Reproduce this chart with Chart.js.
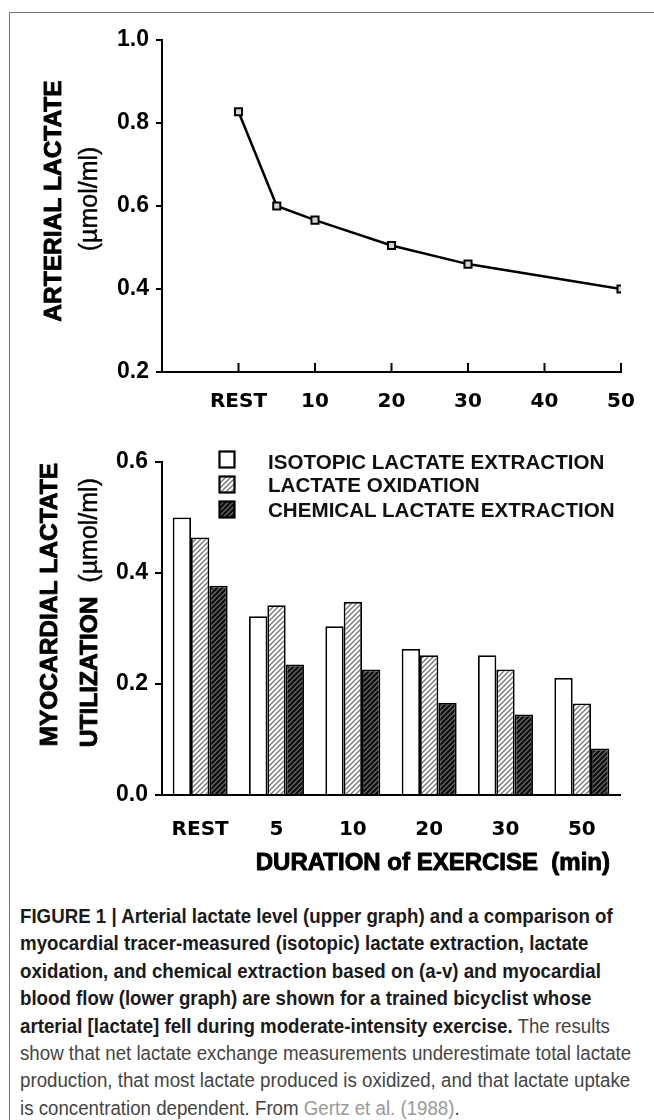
<!DOCTYPE html>
<html>
<head>
<meta charset="utf-8">
<script src="https://cdn.jsdelivr.net/npm/chart.js@4.4.1/dist/chart.umd.min.js"></script>
<style>
  body { margin: 0; background: #fff; width: 654px; height: 1120px; overflow: hidden; position: relative; }
  #frame { position: absolute; left: 9px; top: 12px; width: 700px; height: 1200px; border-left: 1.5px solid #777; border-top: 1.5px solid #777; }
  .box { position: absolute; }
  .legend { position: absolute; left: 268px; font: bold 20.6px "Liberation Sans", Arial, sans-serif; color: #111; white-space: nowrap; line-height: 24px; }
  .cap { position: absolute; left: 20px; top: 903px; font: 20px "Liberation Sans", Arial, sans-serif; line-height: 27.4px; color: #444; white-space: nowrap; transform: scaleX(0.935); transform-origin: 0 0; }
  .cap b { color: #1a1a1a; }
  .cap span { color: #999; }
</style>
</head>
<body>
<div id="frame"></div>
<canvas id="topChart" width="654" height="420" class="box" style="left:0;top:0"></canvas>
<canvas id="bottomChart" width="654" height="460" class="box" style="left:0;top:420px"></canvas>

<canvas id="lg0" width="18" height="19" class="box" style="left:218px;top:450px"></canvas>
<canvas id="lg1" width="18" height="19" class="box" style="left:218px;top:475px"></canvas>
<canvas id="lg2" width="18" height="19" class="box" style="left:218px;top:500px"></canvas>
<div class="legend" id="lt0" style="top:450px"></div>
<div class="legend" id="lt1" style="top:473px"></div>
<div class="legend" id="lt2" style="top:498px"></div>

<div class="cap">
<b>FIGURE 1 | Arterial lactate level (upper graph) and a comparison of</b><br>
<b>myocardial tracer-measured (isotopic) lactate extraction, lactate</b><br>
<b>oxidation, and chemical extraction based on (a-v) and myocardial</b><br>
<b>blood flow (lower graph) are shown for a trained bicyclist whose</b><br>
<b>arterial [lactate] fell during moderate-intensity exercise.</b> The results<br>
show that net lactate exchange measurements underestimate total lactate<br>
production, that most lactate produced is oxidized, and that lactate uptake<br>
is concentration dependent. From <span>Gertz et al. (1988)</span>.
</div>

<script>
// upper graph
var topMinutes = [0, 5, 10, 20, 30, 50];
var arterialLactate = [0.827, 0.600, 0.566, 0.505, 0.460, 0.400];
var topXTicks = [0, 10, 20, 30, 40, 50];
var topYTicks = [0.2, 0.4, 0.6, 0.8, 1.0];

// lower graph
var categories = ['REST', '5', '10', '20', '30', '50'];
var isotopic = [0.500, 0.322, 0.304, 0.263, 0.252, 0.211];
var oxidation = [0.464, 0.342, 0.348, 0.252, 0.226, 0.165];
var chemical = [0.377, 0.235, 0.226, 0.166, 0.145, 0.084];
var bottomYTicks = [0.0, 0.2, 0.4, 0.6];
var seriesNames = ['ISOTOPIC LACTATE EXTRACTION', 'LACTATE OXIDATION', 'CHEMICAL LACTATE EXTRACTION'];

var SANS = '"Liberation Sans", Arial, sans-serif';
var WIDE = '"DejaVu Sans", sans-serif';
var B24 = 'bold 24.5px ' + SANS;
var R25 = '25px ' + SANS;

function hatch(ctx, bg, fg, lw, s) {
	var c = document.createElement('canvas');
	c.width = s; c.height = s;
	var g = c.getContext('2d');
	g.fillStyle = bg;
	g.fillRect(0, 0, s, s);
	g.strokeStyle = fg;
	g.lineWidth = lw;
	g.beginPath();
	g.moveTo(-1, s + 1); g.lineTo(s + 1, -1);
	g.moveTo(-s / 2 - 1, s / 2 + 1); g.lineTo(s / 2 + 1, -s / 2 - 1);
	g.moveTo(s / 2 - 1, s * 1.5 + 1); g.lineTo(s * 1.5 + 1, s / 2 - 1);
	g.stroke();
	return ctx.createPattern(c, 'repeat');
}

// small ticks pointing up into the plot, on the top x axis
var innerTicks = {
	id: 'innerTicks',
	afterDraw: function(chart) {
		var s = chart.scales.x, ctx = chart.ctx;
		ctx.save();
		ctx.strokeStyle = '#000';
		ctx.lineWidth = 2;
		s.ticks.forEach(function(t) {
			var px = s.getPixelForValue(t.value);
			ctx.beginPath();
			ctx.moveTo(px, s.top);
			ctx.lineTo(px, s.top - 9);
			ctx.stroke();
		});
		ctx.restore();
	}
};

// axis titles with mixed weights (heavy words + plain units)
function axisTitles(lines) {
	return {
		id: 'axisTitles',
		afterDraw: function(chart) {
			var ctx = chart.ctx;
			lines.forEach(function(l) {
				ctx.save();
				ctx.fillStyle = '#000';
				ctx.strokeStyle = '#000';
				ctx.lineJoin = 'round';
				ctx.textBaseline = 'middle';
				ctx.textAlign = 'left';
				var widths = l.parts.map(function(p) { ctx.font = p[1]; return ctx.measureText(p[0]).width; });
				var w = widths.reduce(function(a, b) { return a + b; }, 0);
				if (l.rotate) {
					ctx.translate(l.x, l.align === 'top' ? l.y + w : l.y + w / 2);
					ctx.rotate(-Math.PI / 2);
				} else {
					ctx.translate(l.align === 'right' ? l.x - w : l.x - w / 2, l.y);
				}
				var off = 0;
				l.parts.forEach(function(p, i) {
					ctx.font = p[1];
					ctx.fillText(p[0], off, 0);
					ctx.lineWidth = p[1] === R25 ? 0.4 : 0.9;
					ctx.strokeText(p[0], off, 0);
					off += widths[i];
				});
				ctx.restore();
			});
		}
	};
}

Chart.defaults.font.family = SANS;
Chart.defaults.font.weight = 'bold';
Chart.defaults.color = '#000';

new Chart(document.getElementById('topChart'), {
	type: 'line',
	data: {
		datasets: [{
			data: topMinutes.map(function(m, i) { return {x: m, y: arterialLactate[i]}; }),
			borderColor: '#000',
			borderWidth: 2.5,
			tension: 0,
			pointStyle: 'rect',
			pointRadius: 5,
			pointBorderWidth: 2,
			pointBorderColor: '#000',
			pointBackgroundColor: '#d4d4d4'
		}]
	},
	options: {
		responsive: false,
		animation: false,
		devicePixelRatio: 1,
		layout: {padding: {left: 0, right: 33, top: 40, bottom: 0}},
		plugins: {legend: {display: false}, tooltip: {enabled: false}},
		scales: {
			x: {
				type: 'linear', min: -10, max: 50,
				afterBuildTicks: function(s) { s.ticks = topXTicks.map(function(v) { return {value: v}; }); },
				afterFit: function(s) { s.height = 48; },
				grid: {display: false},
				border: {color: '#000', width: 2},
				ticks: {
					autoSkip: false, maxRotation: 0, padding: 10,
					font: {family: WIDE, weight: 'bold', size: 20},
					callback: function(v) { return v === 0 ? 'REST' : String(v); }
				}
			},
			y: {
				min: 0.2, max: 1.0,
				afterBuildTicks: function(s) { s.ticks = topYTicks.map(function(v) { return {value: v}; }); },
				afterFit: function(s) { s.width = 162; },
				grid: {drawOnChartArea: false, tickLength: 6, color: '#000', lineWidth: 2},
				border: {color: '#000', width: 2},
				ticks: {
					padding: 7,
					font: {weight: 'bold', size: 23},
					callback: function(v) { return v.toFixed(1); }
				}
			}
		}
	},
	plugins: [innerTicks, axisTitles([
		{x: 54, y: 201, rotate: true, parts: [['ARTERIAL LACTATE', B24]]},
		{x: 90, y: 199, rotate: true, parts: [['(\u00b5mol/ml)', R25]]}
	])]
});

var bctx = document.getElementById('bottomChart').getContext('2d');
var fills = ['#ffffff', hatch(bctx, '#ffffff', '#777', 1.4, 5), hatch(bctx, '#7a7a7a', '#111', 2.6, 5)];
var series = [isotopic, oxidation, chemical];

new Chart(bctx, {
	type: 'bar',
	data: {
		labels: categories,
		datasets: series.map(function(vals, i) {
			return {
				label: seriesNames[i],
				data: vals,
				backgroundColor: fills[i],
				borderColor: '#000',
				borderWidth: 1.8,
				categoryPercentage: 0.72,
				barPercentage: 1.0
			};
		})
	},
	options: {
		responsive: false,
		animation: false,
		devicePixelRatio: 1,
		layout: {padding: {left: 0, right: 34, top: 42, bottom: 0}},
		plugins: {legend: {display: false}, tooltip: {enabled: false}},
		scales: {
			x: {
				afterFit: function(s) { s.height = 85; },
				grid: {display: false},
				border: {color: '#000', width: 2},
				ticks: {padding: 15, maxRotation: 0, font: {family: WIDE, weight: 'bold', size: 20}}
			},
			y: {
				min: 0, max: 0.6,
				afterBuildTicks: function(s) { s.ticks = bottomYTicks.map(function(v) { return {value: v}; }); },
				afterFit: function(s) { s.width = 162; },
				grid: {drawOnChartArea: false, tickLength: 7, color: '#000', lineWidth: 2},
				border: {color: '#000', width: 2},
				ticks: {
					padding: 7,
					font: {weight: 'bold', size: 23},
					callback: function(v) { return v.toFixed(1); }
				}
			}
		}
	},
	plugins: [axisTitles([
		{x: 50, y: 43, align: 'top', rotate: true, parts: [['MYOCARDIAL LACTATE', B24]]},
		{x: 90, y: 58, align: 'top', rotate: true, parts: [['UTILIZATION', B24], ['  (\u00b5mol/ml)', R25]]},
		{x: 610, y: 443, align: 'right', parts: [['DURATION of EXERCISE  (min)', 'bold 24px ' + SANS]]}
	])]
});

// legend swatches, same fills as the bars
seriesNames.forEach(function(name, i) {
	document.getElementById('lt' + i).textContent = name;
	var c = document.getElementById('lg' + i).getContext('2d');
	var f = i === 0 ? '#fff' : hatch(c, i === 1 ? '#fff' : '#7a7a7a', i === 1 ? '#777' : '#111', i === 1 ? 1.4 : 2.6, 5);
	c.fillStyle = f;
	c.fillRect(1, 1, 16, 17);
	c.strokeStyle = '#000';
	c.lineWidth = 2.2;
	c.strokeRect(1.5, 1.5, 15, 16);
});
</script>
</body>
</html>
